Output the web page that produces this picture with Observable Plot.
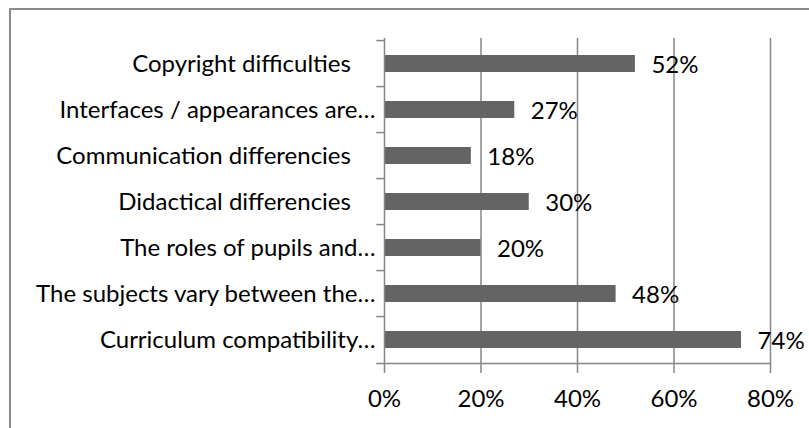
<!DOCTYPE html>
<html>
<head>
<meta charset="utf-8">
<script src="https://cdn.jsdelivr.net/npm/d3@7"></script>
<script src="https://cdn.jsdelivr.net/npm/@observablehq/plot@0.6"></script>
<style>
  html, body { margin: 0; padding: 0; background: #fff; overflow: hidden; }
  #wrap { position: relative; width: 809px; height: 428px; }
  #frame { position: absolute; left: 9px; top: 8px; width: 840px; height: 460px; border: 2px solid #8c8c8c; box-sizing: border-box; }
  #chart { position: absolute; left: 0; top: 0; }
</style>
</head>
<body>
<div id="wrap"><div id="frame"></div><div id="chart"></div></div>
<script>
const categories = [
  "Copyright difficulties",
  "Interfaces / appearances are…",
  "Communication differencies",
  "Didactical differencies",
  "The roles of pupils and…",
  "The subjects vary between the…",
  "Curriculum compatibility…"
];
const values = [52, 27, 18, 30, 20, 48, 74];
const xTicks = [0, 20, 40, 60, 80];

const data = categories.map((c, i) => ({category: c, value: values[i]}));

const W = 809, H = 428, mT = 38, mB = 62, mL = 384, mR = 39;
const step = (H - mT - mB) / categories.length;
const font = "Lato, 'Open Sans', sans-serif";
const fs = 24;
const gridColor = "#868686";

const chart = Plot.plot({
  width: W,
  height: H,
  marginTop: mT,
  marginBottom: mB,
  marginLeft: mL,
  marginRight: mR,
  style: {fontFamily: font, fontSize: fs + "px", color: "#000", background: "transparent", overflow: "visible"},
  x: {domain: [0, 80], ticks: xTicks},
  y: {domain: categories, paddingInner: 0.62, paddingOuter: 0.31},
  marks: [
    Plot.ruleX(xTicks.slice(1), {stroke: gridColor, strokeWidth: 1.5}),
    Plot.barX(data, {x: "value", y: "category", fill: "#646464"}),
    Plot.ruleX([0], {stroke: gridColor, strokeWidth: 1.5}),
    Plot.ruleY(categories, {y: d => d, x1: -1.6, x2: 0, dy: -step / 2, stroke: gridColor, strokeWidth: 1.5}),
    Plot.ruleY(categories.slice(-1), {y: d => d, x1: -1.6, x2: 80, dy: step / 2, stroke: gridColor, strokeWidth: 1.5}),
    Plot.axisX({ticks: xTicks, tickFormat: d => d + "%", tickSize: 7, tickPadding: 16, stroke: gridColor, strokeWidth: 1.5, fontSize: fs, fill: "#000", label: null}),
    Plot.axisY({tickSize: 0, tickPadding: 9, fontSize: fs, fill: "#000", label: null, textOverflow: null, lineWidth: Infinity,
      tickFormat: d => d.endsWith("…") ? d : d + "\u00a0\u00a0\u00a0\u00a0"}),
    Plot.text(data, {x: "value", y: "category", text: d => d.value + "%", textAnchor: "start", dx: 16, dy: 1, fontSize: fs, fill: "#000"})
  ]
});
document.getElementById("chart").appendChild(chart);
</script>
</body>
</html>
